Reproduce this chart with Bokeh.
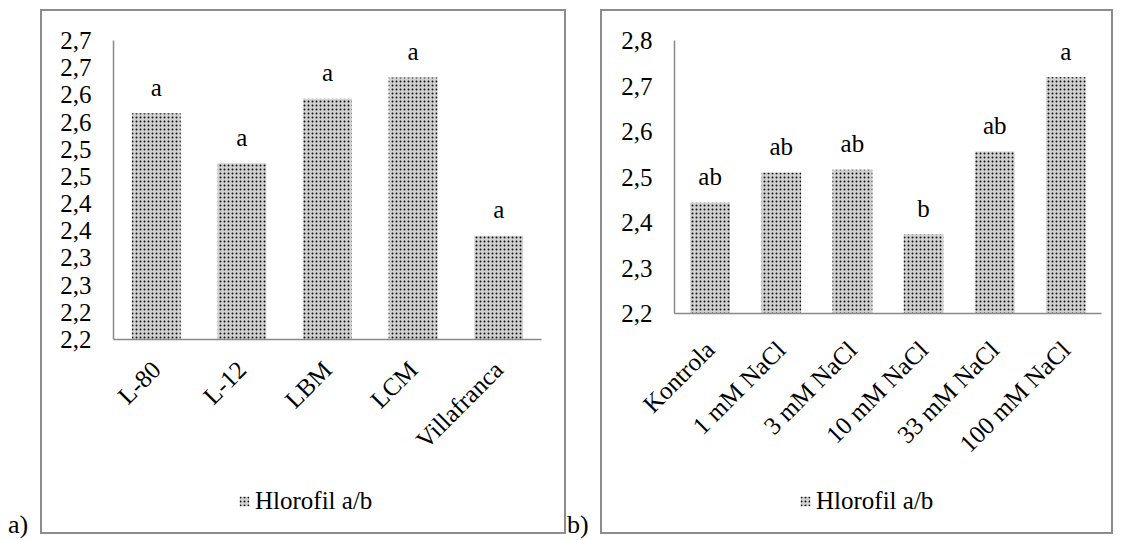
import math

from bokeh.core.properties import value
from bokeh.embed import file_html
from bokeh.layouts import column, row
from bokeh.models import Div, FactorRange, FixedTicker, Legend, LegendItem, Range1d
from bokeh.plotting import figure
from bokeh.resources import INLINE

# Panel a: chlorophyll a/b ratio per cultivar
cultivars = ["L-80", "L-12", "LBM", "LCM", "Villafranca"]
ratio_a = [2.566, 2.474, 2.593, 2.632, 2.341]
letters_a = ["a", "a", "a", "a", "a"]
ticks_a = [2.15, 2.20, 2.25, 2.30, 2.35, 2.40, 2.45, 2.50, 2.55, 2.60, 2.65, 2.70]
tick_labels_a = ["2,2", "2,2", "2,3", "2,3", "2,4", "2,4", "2,5", "2,5", "2,6", "2,6", "2,7", "2,7"]

# Panel b: chlorophyll a/b ratio per NaCl treatment
treatments = ["Kontrola", "1 mM NaCl", "3 mM NaCl", "10 mM NaCl", "33 mM NaCl", "100 mM NaCl"]
ratio_b = [2.444, 2.510, 2.516, 2.374, 2.556, 2.719]
letters_b = ["ab", "ab", "ab", "b", "ab", "a"]
ticks_b = [2.2, 2.3, 2.4, 2.5, 2.6, 2.7, 2.8]
tick_labels_b = ["2,2", "2,3", "2,4", "2,5", "2,6", "2,7", "2,8"]

series_name = "Hlorofil a/b"

FONT = "Liberation Serif"
FONT_SIZE = "25px"
AXIS_GRAY = "#898989"
LINE = "2px solid #8c8c8c"
BAR_STYLE = dict(
    fill_color="#d2d2d2", line_color=None,
    hatch_pattern="dot", hatch_color="#111111",
    hatch_scale=4, hatch_weight=2.2,
)


def make_panel(cats, vals, letters, ticks, tick_labels, width,
               borders, bar_width, label_standoff, legend_xy):
    left, right, top, bottom = borders
    chart = figure(
        width=width, height=469,
        x_range=FactorRange(*cats),
        y_range=Range1d(ticks[0], ticks[-1]),
        output_backend="svg", toolbar_location=None,
        min_border_left=left, min_border_right=right,
        min_border_top=top, min_border_bottom=bottom,
        margin=(9, 0, 0, 0),
        styles={"border-top": LINE, "border-left": LINE, "border-right": LINE},
    )
    chart.outline_line_color = None
    chart.xgrid.visible = False
    chart.ygrid.visible = False
    chart.border_fill_color = "white"

    chart.vbar(x=cats, top=vals, bottom=ticks[0], width=bar_width, **BAR_STYLE)

    chart.text(
        x=cats, y=vals, text=letters,
        text_align="center", text_baseline="alphabetic", y_offset=-26,
        text_font=value(FONT), text_font_size=FONT_SIZE, text_color="black",
    )

    for ax in (chart.xaxis[0], chart.yaxis[0]):
        ax.axis_line_color = AXIS_GRAY
        ax.axis_line_width = 1.5
        ax.major_tick_line_color = None
        ax.minor_tick_line_color = None
        ax.major_tick_out = 0
        ax.major_tick_in = 0
        ax.major_label_text_font = FONT
        ax.major_label_text_font_size = FONT_SIZE
        ax.major_label_text_color = "black"

    chart.yaxis.ticker = FixedTicker(ticks=ticks)
    chart.yaxis.major_label_overrides = dict(zip(ticks, tick_labels))
    chart.yaxis.major_label_standoff = 22
    chart.xaxis.major_label_orientation = math.pi / 4
    chart.xaxis.major_label_standoff = label_standoff

    # legend strip underneath the chart, inside the same outer box; its bar
    # renderer is hidden and only provides the patterned legend swatch
    key = figure(
        width=width, height=56,
        x_range=FactorRange(*cats), y_range=Range1d(ticks[0], ticks[-1]),
        output_backend="svg", toolbar_location=None,
        x_axis_location=None, y_axis_location=None,
        min_border=0,
        styles={"border-bottom": LINE, "border-left": LINE, "border-right": LINE},
    )
    key.outline_line_color = None
    key.xgrid.visible = False
    key.ygrid.visible = False
    swatch = key.vbar(x=cats, top=vals, bottom=ticks[0], width=bar_width, **BAR_STYLE)
    swatch.visible = False
    legend = Legend(
        items=[LegendItem(label=series_name, renderers=[swatch])],
        location=legend_xy,
        border_line_color=None, background_fill_alpha=0,
        inactive_fill_alpha=0,
        padding=0, margin=0, spacing=0,
        glyph_width=12, glyph_height=12, label_standoff=5,
        label_text_font=FONT, label_text_font_size=FONT_SIZE,
        label_text_color="black",
    )
    key.add_layout(legend)
    return column(chart, key, spacing=0)


panel_a = make_panel(cultivars, ratio_a, letters_a, ticks_a, tick_labels_a,
                     526, (71, 27, 29, 141), 0.57, 26, (125, 19))
panel_b = make_panel(treatments, ratio_b, letters_b, ticks_b, tick_labels_b,
                     513, (72, 14, 29, 167), 0.56, 32, (125, 19))

tag_style = {"font-family": FONT, "font-size": "26px", "line-height": "1", "color": "black"}
tag_a = Div(text="a)", width=32, height=28, margin=(512, 0, 0, 8), styles=tag_style)
tag_b = Div(text="b)", width=33, height=28, margin=(512, 0, 0, 1), styles=tag_style)

layout = row(tag_a, panel_a, tag_b, panel_b, spacing=0)

with open("out.html", "w") as f:
    f.write(file_html(layout, INLINE))
